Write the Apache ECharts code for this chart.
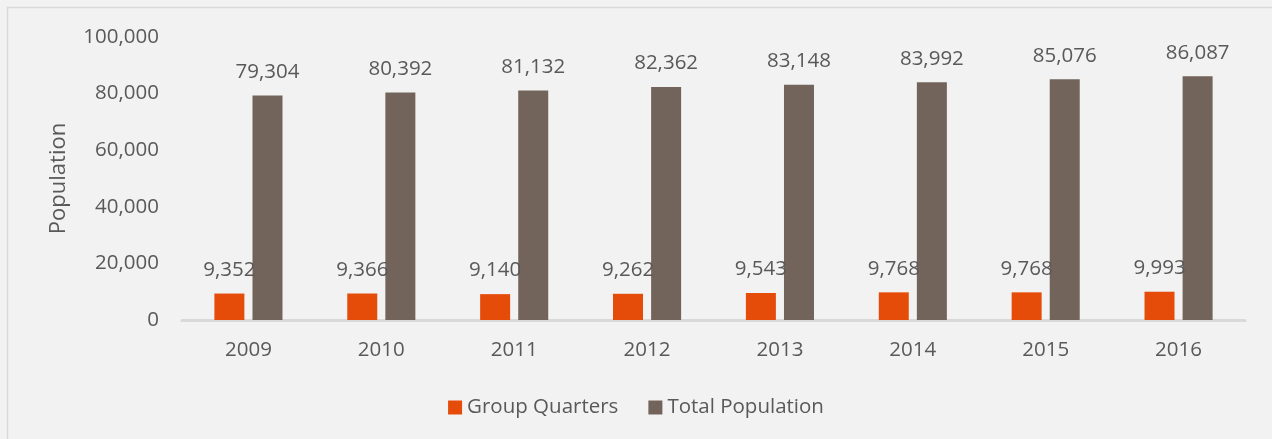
<!DOCTYPE html>
<html>
<head>
<meta charset="utf-8">
<script src="https://cdn.jsdelivr.net/npm/echarts@6/dist/echarts.min.js"></script>
<style>
  html, body { margin: 0; padding: 0; background: #f2f2f2; }
  #chart { width: 1272px; height: 439px; }
</style>
</head>
<body>
<div id="chart"></div>
<script>
const years = ['2009', '2010', '2011', '2012', '2013', '2014', '2015', '2016']
const groupQuarters = [9352, 9366, 9140, 9262, 9543, 9768, 9768, 9993]
const totalPopulation = [79304, 80392, 81132, 82362, 83148, 83992, 85076, 86087]

const fmt = v => v.toLocaleString('en-US')
const font = 'Open Sans'
const textColor = '#595959'

function populationChart() {
  const option = {
    backgroundColor: '#f2f2f2',
    textStyle: { fontFamily: font },
    graphic: [{
      type: 'rect',
      shape: { x: 7.5, y: 7.5, width: 1300, height: 500 },
      style: { fill: 'none', stroke: '#d9d9d9', lineWidth: 1.5 },
      silent: true,
    }],
    legend: {
      top: 392,
      left: 'center',
      itemWidth: 14,
      itemHeight: 14,
      itemGap: 30,
      icon: 'rect',
      textStyle: { fontSize: 20.5, color: textColor, fontFamily: font },
      data: ['Group Quarters', 'Total Population'],
    },
    grid: {
      left: 182,
      right: 27,
      top: 37,
      bottom: 119,
    },
    xAxis: {
      type: 'category',
      data: years,
      axisLine: { lineStyle: { color: '#d9d9d9', width: 3 } },
      axisTick: { show: false },
      axisLabel: { fontSize: 20.5, color: textColor, margin: 20 },
    },
    yAxis: {
      type: 'value',
      min: 0,
      max: 100000,
      interval: 20000,
      name: 'Population',
      nameLocation: 'middle',
      nameGap: 112,
      nameTextStyle: { fontSize: 22, color: textColor, fontFamily: font },
      splitLine: { show: false },
      axisLabel: { fontSize: 20.5, color: textColor, margin: 23, formatter: fmt },
    },
    series: [
      {
        name: 'Group Quarters',
        type: 'bar',
        data: groupQuarters,
        barWidth: 30,
        barGap: '27%',
        itemStyle: { color: '#e54c0a' },
        label: {
          show: true,
          position: 'top',
          distance: 13,
          fontSize: 20.5,
          color: textColor,
          formatter: p => fmt(p.value),
        },
      },
      {
        name: 'Total Population',
        type: 'bar',
        data: totalPopulation,
        barWidth: 30,
        itemStyle: { color: '#72645a' },
        label: {
          show: true,
          position: 'top',
          distance: 13,
          fontSize: 20.5,
          color: textColor,
          formatter: p => fmt(p.value),
        },
      },
    ],
  }

  var myChart = echarts.init(document.getElementById('chart'))
  myChart.setOption(option)
}

populationChart()
</script>
</body>
</html>
